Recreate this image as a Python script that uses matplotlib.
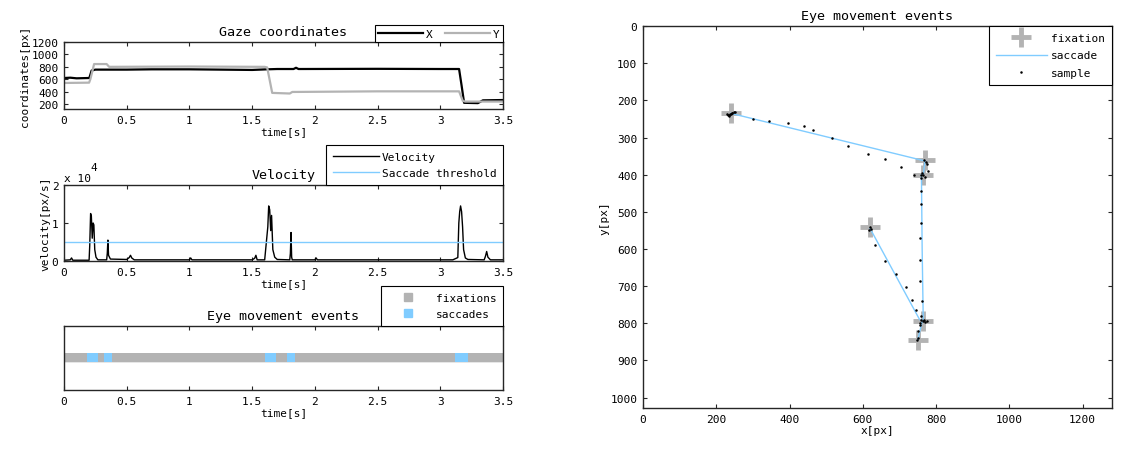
import numpy as np
import matplotlib.pyplot as plt
from matplotlib.lines import Line2D
from matplotlib.ticker import FormatStrFormatter

plt.rcParams['font.family'] = 'DejaVu Sans Mono'
plt.rcParams['font.size'] = 8

# gaze coordinates (time[s], px)
gaze_t_x = [0, 0.05, 0.1, 0.2, 0.205, 0.22, 0.25, 0.5, 0.7, 1.0, 1.5, 1.62, 1.7, 1.83, 1.85, 1.87, 2.5, 3.0, 3.15, 3.17, 3.19, 3.3, 3.34, 3.5]
gaze_x = [620, 625, 615, 620, 640, 740, 755, 755, 760, 760, 750, 760, 765, 765, 785, 765, 768, 765, 765, 500, 220, 215, 260, 265]
gaze_t_y = [0, 0.2, 0.21, 0.24, 0.34, 0.36, 1.0, 1.6, 1.62, 1.66, 1.8, 1.82, 2.5, 3.15, 3.18, 3.2, 3.5]
gaze_y = [540, 545, 600, 845, 845, 800, 805, 800, 790, 380, 370, 395, 405, 405, 250, 240, 240]

# velocity (time[s], px/s)
vel_t = [0, 0.05, 0.06, 0.07, 0.2, 0.205, 0.212, 0.218, 0.225, 0.232, 0.238, 0.245, 0.255, 0.27, 0.34, 0.345, 0.35, 0.355, 0.37,
         0.5, 0.52, 0.53, 0.54, 0.56, 1.0, 1.01, 1.02, 1.5, 1.52, 1.53, 1.54, 1.6, 1.625, 1.632, 1.64, 1.648, 1.655, 1.665, 1.68, 1.7,
         1.8, 1.805, 1.81, 1.815, 1.82, 2.0, 2.01, 2.02, 2.5, 3.1, 3.14, 3.148, 3.155, 3.162, 3.17, 3.178, 3.186, 3.2, 3.22,
         3.35, 3.36, 3.37, 3.38, 3.4, 3.5]
vel = [200, 300, 800, 200, 200, 4000, 12500, 11800, 6000, 10000, 9500, 3000, 1000, 300, 300, 2000, 5500, 1500, 500,
       400, 900, 1500, 800, 300, 300, 800, 300, 300, 700, 1500, 300, 300, 9000, 14500, 13500, 8000, 12000, 3000, 1000, 400,
       300, 2000, 7500, 1000, 300, 300, 800, 300, 300, 300, 900, 10000, 13000, 14500, 13000, 9000, 3000, 800, 400,
       300, 1200, 2500, 1000, 300, 300]
threshold = 5000

# events (start, duration) in seconds
fixations = [(0, 3.5)]
saccades = [(0.18, 0.09), (0.32, 0.065), (1.60, 0.09), (1.78, 0.065), (3.12, 0.10)]

# 2D view
fix_x = [620, 750, 765, 770, 765, 240]
fix_y = [540, 845, 795, 360, 400, 235]
sac_x = [[620, 755], [750, 762], [765, 762, 760], [770, 765], [765, 240]]
sac_y = [[545, 790], [845, 795], [795, 600, 400], [362, 400], [362, 235]]
sample_x = [230, 235, 238, 242, 248, 252, 236, 244, 240, 233, 300, 345, 395, 440, 465, 515, 560, 615, 660, 705, 740,
            768, 772, 775, 762, 765, 770, 760, 758, 778,
            760, 760, 758, 757, 755, 757, 762, 760,
            620, 622, 618, 632, 660, 690, 718, 735, 745,
            760, 765, 768, 770, 775, 755, 752, 750, 748, 757]
sample_y = [238, 240, 236, 233, 231, 232, 242, 235, 237, 239, 250, 255, 262, 270, 280, 300, 322, 345, 358, 380, 400,
            360, 365, 372, 395, 400, 405, 402, 410, 390,
            445, 480, 530, 570, 630, 685, 740, 780,
            540, 545, 548, 590, 632, 668, 703, 737, 765,
            792, 795, 790, 796, 793, 800, 820, 840, 845, 805]

gray = '#b3b3b3'
blue = '#80ccff'
axc = '#262626'


def style(ax):
    ax.tick_params(direction='in', top=True, right=True, length=3, width=0.8, colors=axc, labelcolor='black', pad=4)
    for s in ax.spines.values():
        s.set_color(axc)
        s.set_linewidth(1.0)


def leg_style(leg):
    fr = leg.get_frame()
    fr.set_edgecolor('black')
    fr.set_linewidth(0.8)
    fr.set_boxstyle('square', pad=0)


fig = plt.figure(figsize=(11.29, 4.52), dpi=100)

# gaze coordinates
ax1 = fig.add_axes([0.0567, 0.7566, 0.3888, 0.1482])
ax1.plot(gaze_t_x, gaze_x, color='black', lw=1.6, label='X')
ax1.plot(gaze_t_y, gaze_y, color=gray, lw=1.6, label='Y')
ax1.set_xlim(0, 3.5)
ax1.set_ylim(120, 1200)
ax1.set_yticks([200, 400, 600, 800, 1000, 1200])
ax1.xaxis.set_major_formatter(FormatStrFormatter('%g'))
ax1.set_xlabel('time[s]', labelpad=1)
ax1.set_ylabel('coordinates[px]', labelpad=1)
ax1.set_title('Gaze coordinates', pad=5)
style(ax1)
leg = ax1.legend(loc='lower right', bbox_to_anchor=(1, 1), borderaxespad=0, ncol=2, fancybox=False,
                 framealpha=1, handlelength=4.0, handletextpad=0.3, columnspacing=1.1, borderpad=0.3)
leg_style(leg)

# velocity
ax2 = fig.add_axes([0.0567, 0.4204, 0.3888, 0.168])
ax2.plot(vel_t, np.array(vel) / 1e4, color='black', lw=1.0, label='Velocity')
ax2.axhline(threshold / 1e4, color=blue, lw=1.0, label='Saccade threshold')
ax2.set_xlim(0, 3.5)
ax2.set_ylim(0, 2)
ax2.set_yticks([0, 1, 2])
ax2.xaxis.set_major_formatter(FormatStrFormatter('%g'))
ax2.set_xlabel('time[s]', labelpad=1)
ax2.set_ylabel('velocity[px/s]', labelpad=1)
ax2.set_title('Velocity', pad=5)
ax2.text(0.0, 1.03, 'x 10', transform=ax2.transAxes, ha='left', va='bottom')
ax2.text(0.06, 1.17, '4', transform=ax2.transAxes, ha='left', va='bottom')
style(ax2)
leg = ax2.legend(loc='lower right', bbox_to_anchor=(1, 1), borderaxespad=0, fancybox=False,
                 framealpha=1, handlelength=4.2, handletextpad=0.2, borderpad=0.6, labelspacing=0.6)
leg_style(leg)

# events over time
ax3 = fig.add_axes([0.0567, 0.135, 0.3888, 0.1416])
ax3.broken_barh(fixations, (0.415, 0.17), facecolors='#e6e6e6')
ax3.broken_barh(fixations, (0.43, 0.14), facecolors=gray)
ax3.broken_barh(saccades, (0.43, 0.14), facecolors=blue)
ax3.set_xlim(0, 3.5)
ax3.set_ylim(0, 1)
ax3.set_yticks([])
ax3.xaxis.set_major_formatter(FormatStrFormatter('%g'))
ax3.set_xlabel('time[s]', labelpad=1)
ax3.set_title('Eye movement events', pad=5)
style(ax3)
handles = [Line2D([], [], ls='none', marker='s', ms=6, color=gray),
           Line2D([], [], ls='none', marker='s', ms=6, color=blue)]
leg = ax3.legend(handles, ['fixations', 'saccades'], loc='lower right', bbox_to_anchor=(1, 1), borderaxespad=0,
                 fancybox=False, framealpha=1, handlelength=3.7, handletextpad=0.6, borderpad=0.6, labelspacing=0.6)
leg_style(leg)

# 2D eye movement events
ax4 = fig.add_axes([0.5695, 0.0951, 0.4154, 0.8451])
ax4.plot(fix_x, fix_y, ls='none', marker='+', ms=15, mew=3.5, color=gray, label='fixation')
for i, (sx, sy) in enumerate(zip(sac_x, sac_y)):
    ax4.plot(sx, sy, color=blue, lw=1.0, label='saccade' if i == 0 else None)
ax4.plot(sample_x, sample_y, ls='none', marker='.', ms=1.6, color='black', label='sample')
ax4.set_xlim(0, 1280)
ax4.set_ylim(1028, 0)
ax4.set_xticks(np.arange(0, 1201, 200))
ax4.set_yticks(np.arange(0, 1001, 100))
ax4.set_xlabel('x[px]', labelpad=1)
ax4.set_ylabel('y[px]', labelpad=1)
ax4.set_title('Eye movement events', pad=5)
style(ax4)
leg = ax4.legend(loc='upper right', borderaxespad=0, fancybox=False, framealpha=1, handlelength=4.6,
                 handletextpad=0.4, borderpad=0.6, labelspacing=0.7)
leg_style(leg)

fig.savefig('out.png', dpi=100)
